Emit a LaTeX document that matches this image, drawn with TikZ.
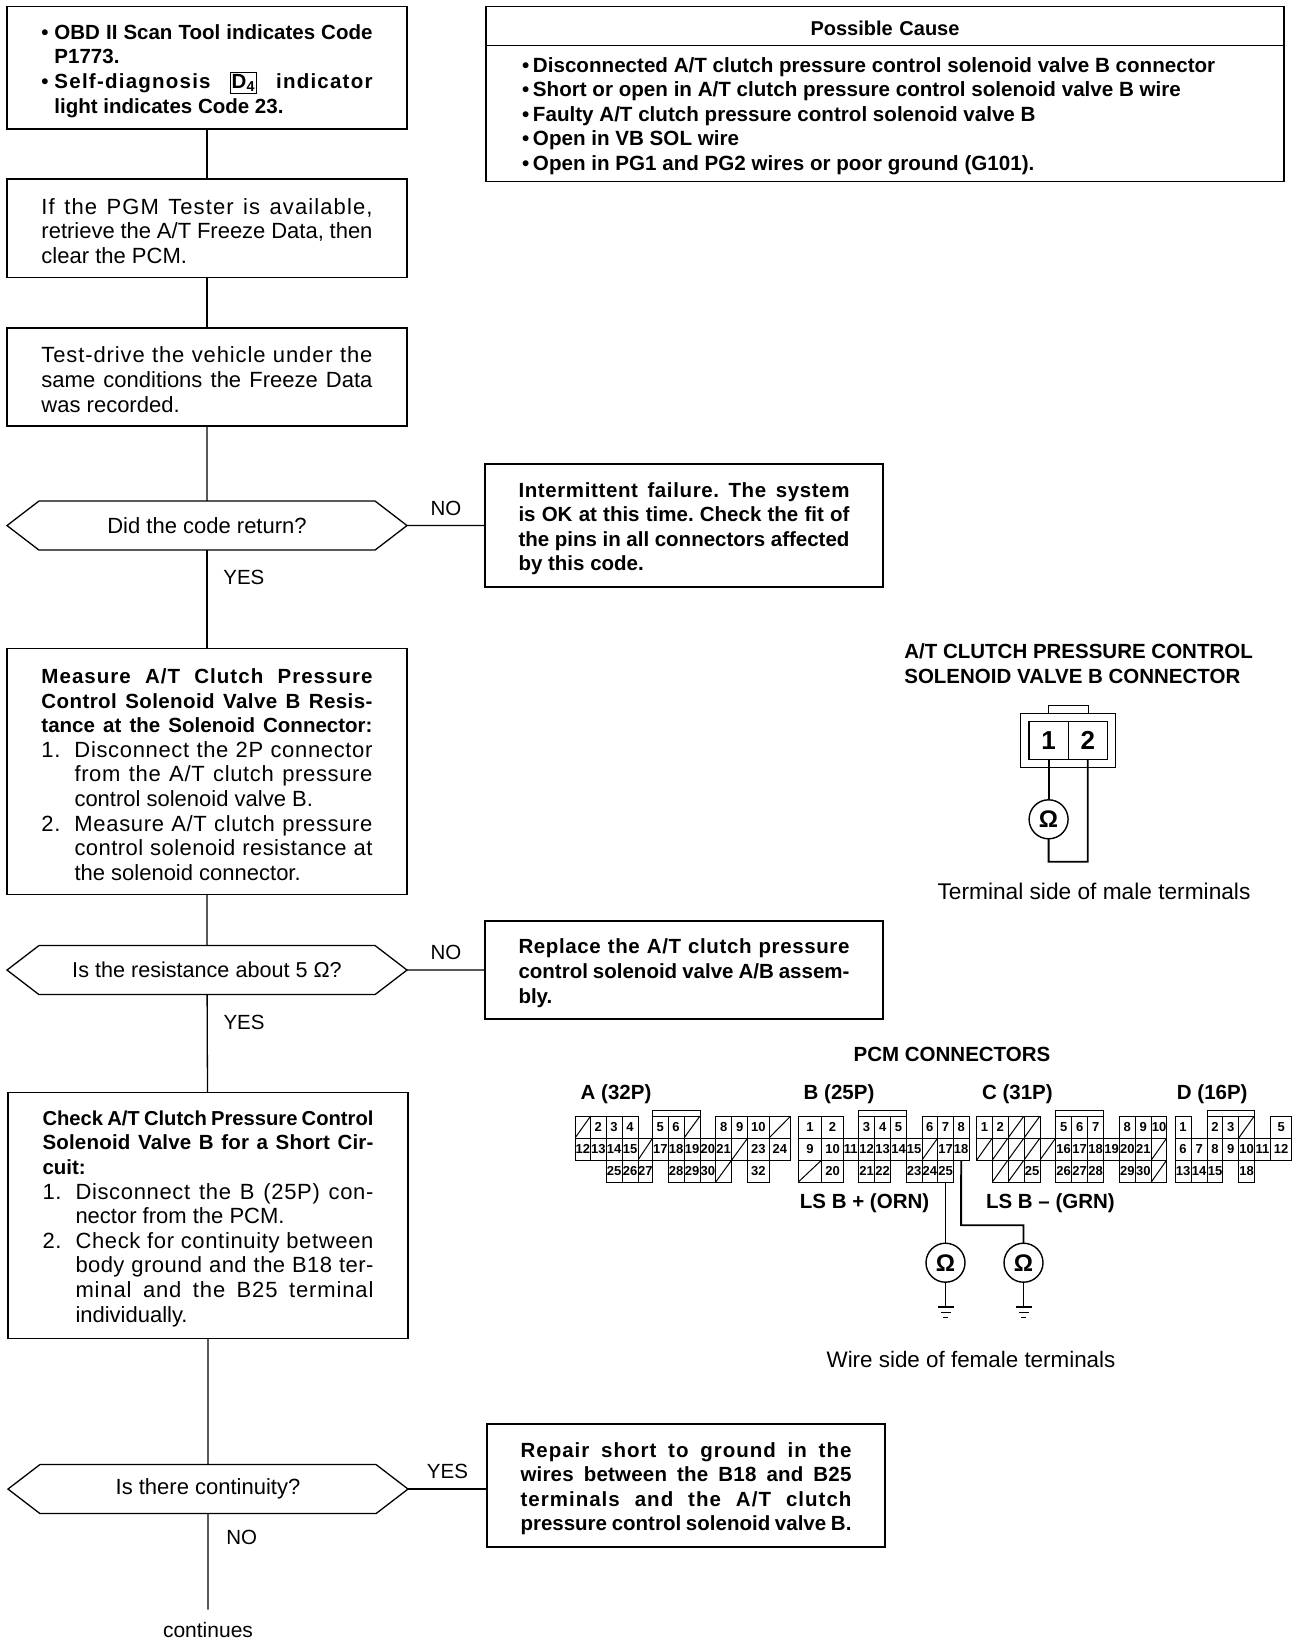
\documentclass[tikz,border=0pt]{standalone}
\usepackage{fontspec}
\setmainfont{Liberation Sans}
\usetikzlibrary{shapes.symbols, positioning}

\newcommand{\bfs}{\fontsize{20.5pt}{24.6pt}\bfseries\selectfont}
\newcommand{\jl}[2][0]{\makebox[331pt][s]{\frenchspacing\addfontfeature{LetterSpace=#1}#2}}
\newcommand{\itm}[1]{\makebox[33pt][l]{#1}}
\newcommand{\dotitm}{\makebox[13pt][l]{•}}
\newcommand{\causeitm}{\makebox[11pt][l]{•}}
% one row of numbered terminals, then one row of blanked terminals
\newcommand{\pinrow}[3]{
	\foreach \xa/\xb/\lab in {#3} {
		\pgfmathsetmacro{\xw}{\xb-\xa}
		\pgfmathsetmacro{\xm}{(\xa+\xb)/2}
		\node (#1-\lab) [pincell, minimum width=\xw pt] at (\xm,#2) {\lab};
	}
}
\newcommand{\blankrow}[3]{
	\foreach \xa/\xb [count=\i] in {#3} {
		\pgfmathsetmacro{\xw}{\xb-\xa}
		\pgfmathsetmacro{\xm}{(\xa+\xb)/2}
		\node (#1\i) [pincell, slashed, minimum width=\xw pt] at (\xm,#2) {};
	}
}
\newcommand{\gnd}[1]{
	\draw [wire] (#1) ++(-8,0) -- ++(16,0);
	\draw [thick] (#1) ++(-5,5) -- ++(10,0);
	\draw [thick] (#1) ++(-2.5,10) -- ++(5,0);
}

\begin{document}
\begin{tikzpicture}[
	x=1pt, y=-1pt,
	every node/.style={font=\fontsize{22pt}{24.6pt}\selectfont, outer sep=0pt},
	flowbox/.style={draw, line width=1.5pt, text width=331pt, inner xsep=34.5pt, inner ysep=0pt, align=flush left, execute at begin node={\leavevmode\rule{0pt}{21pt}}},
	sidebox/.style={flowbox, inner xsep=33.5pt, font=\bfs},
	causebox/.style={draw, line width=1.3pt, text width=726pt, inner xsep=36pt, inner ysep=0pt, align=flush left, execute at begin node={\leavevmode\rule{0pt}{20pt}}},
	decision/.style={draw, line width=1.3pt, signal, signal to=east and west, signal pointer angle=75, minimum width=400pt, minimum height=49pt, inner sep=0pt},
	link/.style={line width=1.3pt},
	flowlabel/.style={font=\fontsize{20.5pt}{24pt}\selectfont},
	pincell/.style={draw, line width=1pt, minimum height=22pt, inner sep=0pt, font=\fontsize{13pt}{13pt}\bfseries\selectfont},
	slashed/.style={path picture={\draw [line width=1pt] (path picture bounding box.south west) -- (path picture bounding box.north east);}},
	ohm/.style={draw, circle, line width=1.4pt, minimum size=39pt, inner sep=0pt, font=\fontsize{24pt}{24pt}\bfseries\selectfont},
	wire/.style={line width=1.8pt},
	heading/.style={font=\bfs},
	]
	\useasboundingbox (0,0) rectangle (1312,1644);

	% Flow
	\node (obd) [flowbox, minimum height=122.5pt, font=\bfs] at (207,67.8) {
		\jl{\dotitm OBD II Scan Tool indicates Code}\\
		\hspace*{13pt}P1773.\\
		\jl[6]{\dotitm Self-diagnosis {\setlength{\fboxsep}{1pt}\setlength{\fboxrule}{1.2pt}\fbox{D\textsubscript{4}}} indicator}\\
		\hspace*{13pt}light indicates Code 23.};
	\node (pgm) [flowbox, minimum height=98.5pt, below=50pt of obd] {
		\jl[5]{If the PGM Tester is available,}\\
		\jl{retrieve the A/T Freeze Data, then}\\
		clear the PCM.};
	\node (drive) [flowbox, minimum height=98pt, below=50.5pt of pgm] {
		\jl[4]{Test-drive the vehicle under the}\\
		\jl{same conditions the Freeze Data}\\
		was recorded.};
	\node (ret) [decision, below=75pt of drive] {Did the code return?};
	\node (intermit) [sidebox, minimum height=123pt, right=78pt of ret] {
		\jl[3]{Intermittent failure. The system}\\
		\jl{is OK at this time. Check the fit of}\\
		\jl{the pins in all connectors affected}\\
		by this code.};
	\node (measure) [flowbox, minimum height=246pt, below=98.5pt of ret] {
		{\bfs\jl[5]{Measure A/T Clutch Pressure}\\
		\jl[2]{Control Solenoid Valve B Resis-}\\
		\jl{tance at the Solenoid Connector:}}\\
		\jl[3]{\itm{1.}Disconnect the 2P connector}\\
		\jl[3]{\hspace*{33pt}from the A/T clutch pressure}\\
		\hspace*{33pt}control solenoid valve B.\\
		\jl[3]{\itm{2.}Measure A/T clutch pressure}\\
		\jl[2]{\hspace*{33pt}control solenoid resistance at}\\
		\hspace*{33pt}the solenoid connector.};
	\node (resist) [decision, below=51pt of measure] {\fontsize{21.6pt}{24pt}\selectfont Is the resistance about 5 Ω?};
	\node (replace) [sidebox, minimum height=98pt, right=78pt of resist] {
		\jl[3]{Replace the A/T clutch pressure}\\
		\jl{control solenoid valve A/B assem-}\\
		bly.};
	\node (short) [flowbox, minimum height=246pt, below=98pt of resist, xshift=1pt] {
		{\bfs\fontsize{20.2pt}{24.6pt}\selectfont\jl{Check A/T Clutch Pressure Control}\\
		\bfs\jl[1]{Solenoid Valve B for a Short Cir-}\\
		cuit:}\\
		\jl[3]{\itm{1.}Disconnect the B (25P) con-}\\
		\hspace*{33pt}nector from the PCM.\\
		\jl[3]{\itm{2.}Check for continuity between}\\
		\jl[2]{\hspace*{33pt}body ground and the B18 ter-}\\
		\jl[4]{\hspace*{33pt}minal and the B25 terminal}\\
		\hspace*{33pt}individually.};
	\node (cont) [decision, below=126pt of short] {Is there continuity?};
	\node (repair) [sidebox, minimum height=123pt, right=79pt of cont, yshift=3.5pt] {
		\jl[5]{Repair short to ground in the}\\
		\jl[1]{wires between the B18 and B25}\\
		\jl[5]{terminals and the A/T clutch}\\
		\jl{pressure control solenoid valve B.}};
	\node (more) [below=96pt of cont, inner sep=13pt, font=\fontsize{21pt}{24pt}\selectfont] {continues};

	% Connections
	\draw [link] (obd) -- (pgm);
	\draw [link] (pgm) -- (drive);
	\draw [link] (drive) -- (ret);
	\draw [link] (ret) -- node (retyes) [flowlabel, pos=.28, right=13pt] {YES} (measure);
	\draw [link] (ret) -- node (retno) [flowlabel, above=7pt] {NO} (intermit);
	\draw [link] (measure) -- (resist);
	\draw [link] (resist) -- node (resyes) [flowlabel, pos=.28, right=13pt] {YES} (short);
	\draw [link] (resist) -- node (resno) [flowlabel, above=7pt] {NO} (replace);
	\draw [link] (short) -- (cont);
	\draw [link] (cont) -- node (contno) [flowlabel, pos=.25, right=15pt] {NO} (more);
	\draw [link] (cont.east) -- node (contyes) [flowlabel, above=7pt] {YES} (cont.east -| repair.west);

	% Possible causes
	\node (causehead) [causebox, minimum height=39pt, align=center, font=\fontsize{20pt}{24pt}\bfseries\selectfont] at (885,26) {Possible Cause};
	\node (causes) [causebox, minimum height=136pt, below=0pt of causehead, font=\fontsize{20.6pt}{24.6pt}\bfseries\selectfont] {
		\causeitm Disconnected A/T clutch pressure control solenoid valve B connector\\
		\causeitm Short or open in A/T clutch pressure control solenoid valve B wire\\
		\causeitm Faulty A/T clutch pressure control solenoid valve B\\
		\causeitm Open in VB SOL wire\\
		\causeitm Open in PG1 and PG2 wires or poor ground (G101).};

	% Solenoid connector
	\node (soltitle) [heading, anchor=base west, align=left] at (901,683) {A/T CLUTCH PRESSURE CONTROL\\SOLENOID VALVE B CONNECTOR};
	\node (solbody) [draw, line width=1.2pt, minimum width=95pt, minimum height=54pt] at (1068.3,740.3) {};
	\node (soltab) [draw, line width=1.2pt, anchor=south, minimum width=40pt, minimum height=7.5pt, inner sep=0pt] at (solbody.north) {};
	\node (sol1) [draw, line width=1.2pt, minimum width=39.2pt, minimum height=37.6pt, inner sep=0pt, font=\fontsize{26pt}{26pt}\bfseries\selectfont] at (1048.6,740.5) {1};
	\node (sol2) [draw, line width=1.2pt, minimum width=39.2pt, minimum height=37.6pt, inner sep=0pt, font=\fontsize{26pt}{26pt}\bfseries\selectfont, right=0pt of sol1] {2};
	\node (solohm) [ohm] at (1048.6,819.3) {Ω};
	\coordinate (solturn) at (1087.8,861.7);
	\draw [wire] (sol1) -- (solohm);
	\draw [wire] (solohm) |- (solturn) -- (sol2);
	\node (solside) [anchor=base, font=\fontsize{22.7pt}{24pt}\selectfont] at (1094,899) {Terminal side of male terminals};

	% PCM connectors
	\node (pcmtitle) [heading, anchor=base] at (952,1061) {PCM CONNECTORS};
	\node (labA) [heading, anchor=base west] at (577.4,1099) {A (32P)};
	\node (labB) [heading, anchor=base west] at (800.4,1099) {B (25P)};
	\node (labC) [heading, anchor=base west] at (978.8,1099) {C (31P)};
	\node (labD) [heading, anchor=base west] at (1173.6,1099) {D (16P)};

	\pinrow{A}{1127}{590.7/606/2, 606/622/3, 622/638/4, 652.7/668/5, 668/684/6, 715.7/731.7/8, 731.7/747.7/9, 747.7/769/10}
	\blankrow{Aa}{1127}{575/590.7, 684/700, 769/790.7}
	\pinrow{A}{1149}{575/590.7/12, 590.7/606/13, 606/622/14, 622/638/15, 652.7/668/17, 668/684/18, 684/700/19, 700/715.7/20, 715.7/731.7/21, 747.7/769/23, 769/790.7/24}
	\blankrow{Ab}{1149}{638/652.7, 731.7/747.7}
	\pinrow{A}{1171}{606/622/25, 622/638/26, 638/652.7/27, 668/684/28, 684/700/29, 700/715.7/30, 747.7/769/32}
	\blankrow{Ac}{1171}{715.7/731.7}

	\pinrow{B}{1127}{798.3/821.7/1, 821.7/843.3/2, 858.3/874.7/3, 874.7/890.7/4, 890.7/906.3/5, 922/937.7/6, 937.7/953.3/7, 953.3/969/8}
	\pinrow{B}{1149}{798.3/821.7/9, 821.7/843.3/10, 843.3/858.3/11, 858.3/874.7/12, 874.7/890.7/13, 890.7/906.3/14, 906.3/922/15, 937.7/953.3/17, 953.3/969/18}
	\blankrow{Bb}{1149}{922/937.7}
	\pinrow{B}{1171}{821.7/843.3/20, 858.3/874.7/21, 874.7/890.7/22, 906.3/922/23, 922/937.7/24, 937.7/953.3/25}
	\blankrow{Bc}{1171}{798.3/821.7}

	\pinrow{C}{1127}{976.7/992.3/1, 992.3/1008/2, 1055.7/1071.7/5, 1071.7/1087.7/6, 1087.7/1103.7/7, 1119.3/1135.3/8, 1135.3/1151.3/9, 1151.3/1166.7/10}
	\blankrow{Ca}{1127}{1008/1024, 1024/1040}
	\pinrow{C}{1149}{1055.7/1071.7/16, 1071.7/1087.7/17, 1087.7/1103.7/18, 1103.7/1119.3/19, 1119.3/1135.3/20, 1135.3/1151.3/21}
	\blankrow{Cb}{1149}{976.7/992.3, 992.3/1008, 1008/1024, 1024/1040, 1040/1055.7, 1151.3/1166.7}
	\pinrow{C}{1171}{1024/1040/25, 1055.7/1071.7/26, 1071.7/1087.7/27, 1087.7/1103.7/28, 1119.3/1135.3/29, 1135.3/1151.3/30}
	\blankrow{Cc}{1171}{992.3/1008, 1008/1024, 1151.3/1166.7}

	\pinrow{D}{1127}{1175/1191/1, 1207.3/1222.7/2, 1222.7/1238.7/3, 1270.7/1291.7/5}
	\blankrow{Da}{1127}{1238.7/1254.3}
	\pinrow{D}{1149}{1175/1191/6, 1191/1207.3/7, 1207.3/1222.7/8, 1222.7/1238.7/9, 1238.7/1254.3/10, 1254.3/1270.7/11, 1270.7/1291.7/12}
	\pinrow{D}{1171}{1175/1191/13, 1191/1207.3/14, 1207.3/1222.7/15, 1238.7/1254.3/18}

	\draw [line width=1pt] (A-5.north west) -- ++(0,-6) -| (Aa2.north east);
	\draw [line width=1pt] (B-3.north west) -- ++(0,-6) -| (B-5.north east);
	\draw [line width=1pt] (C-5.north west) -- ++(0,-6) -| (C-7.north east);
	\draw [line width=1pt] (D-2.north west) -- ++(0,-6) -| (Da1.north east);

	\node (lsplus) [heading, anchor=base west] at (796.6,1208) {LS B + (ORN)};
	\node (lsminus) [heading, anchor=base west] at (982.7,1208) {LS B -- (GRN)};

	\node (ohmA) [ohm] at (945.5,1262.7) {Ω};
	\node (ohmB) [ohm] at (1023.5,1262.7) {Ω};
	\coordinate (wireturn) at (961.1,1225.3);
	\coordinate (gndA) at (945.5,1307);
	\coordinate (gndB) at (1023.5,1307);
	\draw [wire] (B-25) -- (ohmA);
	\draw [wire] (B-18.south) -- (wireturn) -| (ohmB);
	\draw [wire] (ohmA) -- (gndA);
	\draw [wire] (ohmB) -- (gndB);
	\gnd{gndA}
	\gnd{gndB}
	\node (wireside) [anchor=base, font=\fontsize{22.4pt}{24pt}\selectfont] at (971,1367) {Wire side of female terminals};
\end{tikzpicture}
\end{document}
